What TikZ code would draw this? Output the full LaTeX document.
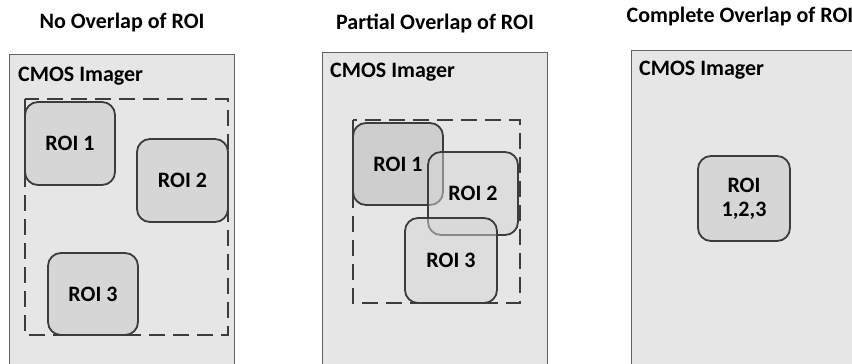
\documentclass[tikz,border=0pt]{standalone}
\usepackage{fontspec}
\setmainfont{Carlito}
\usetikzlibrary{positioning}
\definecolor{panelfill}{HTML}{E6E6E6}
\definecolor{roifill}{HTML}{D6D6D6}
\definecolor{roidark}{HTML}{C4C4C4}
\definecolor{edge}{HTML}{3C3C3C}
\tikzset{
  panel/.style={draw=edge!80, line width=0.9pt, fill=panelfill},
  roibox/.style={draw=edge, line width=1.8pt, rounded corners=13pt, fill=roifill,
    inner sep=0pt, font=\fontsize{22}{24}\selectfont\bfseries, align=center},
  dashbox/.style={draw=edge, line width=1.6pt, dash pattern=on 16pt off 8pt},
  heading/.style={font=\fontsize{22}{24}\selectfont\bfseries, inner sep=0pt},
  imager/.style={font=\fontsize{22}{24}\selectfont\bfseries, inner sep=0pt, anchor=west}
}
\begin{document}
\begin{tikzpicture}[x=1pt,y=-1pt]
\useasboundingbox (0,0) rectangle (852,364);
\clip (0,0) rectangle (852,364);

% ---- No overlap ----
\node[heading] (t1) at (122,23) {No Overlap of ROI};
\draw[panel] (9,54) rectangle (234,372);
\node[imager] (c1) at (18,76) {CMOS Imager};
\draw[dashbox] (25,99) rectangle (228,335);
\node[roibox, minimum width=90pt, minimum height=83pt] (a1) at (70,143.5) {ROI 1};
\node[roibox, minimum width=91pt, minimum height=83pt] (a2) at (182.5,180.5) {ROI 2};
\node[roibox, minimum width=90pt, minimum height=82pt] (a3) at (93,294) {ROI 3};

% ---- Partial overlap ----
\node[heading] (t2) at (435,23) {Partial Overlap of ROI};
\draw[panel] (322,52) rectangle (547,372);
\node[imager] (c2) at (330,72) {CMOS Imager};
\draw[dashbox] (353,120) rectangle (520,303);
\node[roibox, fill=roidark, fill opacity=0.7, text opacity=1,
      minimum width=90pt, minimum height=82pt] (b1) at (398,164) {ROI 1};
\node[roibox, fill opacity=0.5, text opacity=1,
      minimum width=90pt, minimum height=83pt] (b2) at (473,193.5) {ROI 2};
\node[roibox, fill opacity=0.5, text opacity=1,
      minimum width=92pt, minimum height=85pt] (b3) at (451,260.5) {ROI 3};

% ---- Complete overlap ----
\node[heading] (t3) at (740,17) {Complete Overlap of ROI};
\draw[panel] (631,50) rectangle (870,372);
\node[imager] (c3) at (639,70) {CMOS Imager};
\node[roibox, minimum width=92pt, minimum height=85pt] (r) at (744,198.5) {ROI\\1,2,3};
\end{tikzpicture}
\end{document}
